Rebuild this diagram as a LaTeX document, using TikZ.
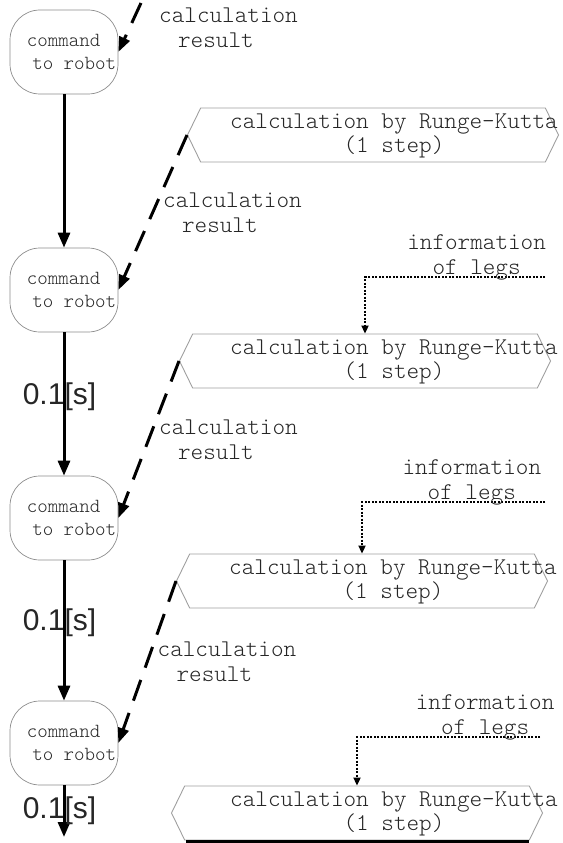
\documentclass[tikz,border=0pt]{standalone}
\usepackage{fontspec}
\setmonofont{Latin Modern Mono Light}
\newfontfamily\timefont{Liberation Sans}
\usetikzlibrary{arrows.meta,shapes.symbols}

\begin{document}
\begin{tikzpicture}[
    x=1pt, y=-1pt,
    robot/.style={rectangle, rounded corners=30pt, minimum width=108pt, minimum height=84pt, draw=gray!90, line width=0.7pt},
    robottext/.style={font=\ttfamily\fontsize{20}{23}\selectfont, align=center, text=black!85, inner sep=0pt},
    rkbox/.style={signal, signal to=west and east, signal pointer angle=128, minimum width=371pt, minimum height=54pt, draw=gray!75, line width=0.9pt, inner sep=0pt},
    rktext/.style={font=\ttfamily\fontsize{24}{24}\selectfont, align=center, text=black!85, inner sep=0pt},
    resulttext/.style={font=\ttfamily\fontsize{24}{25}\selectfont, align=center, text=black!85, inner sep=0pt, anchor=west, xshift=9pt},
    legstext/.style={font=\ttfamily\fontsize{24}{25}\selectfont, align=center, text=black!85, inner sep=0pt, anchor=south, yshift=-4pt},
    timelabel/.style={font=\timefont\fontsize{30}{30}\selectfont, text=black!85, inner sep=0pt, anchor=base, xshift=-4.5pt},
    timestep/.style={line width=3pt, -{Triangle[length=15pt,width=12pt]}},
    result/.style={line width=3pt, dash pattern=on 22pt off 13pt, -{Triangle[length=15pt,width=11pt]}},
    legs/.style={line width=2pt, dash pattern=on 2pt off 1.5pt, -{Triangle[length=8pt,width=7pt]}}
]
    \useasboundingbox (0,0) rectangle (562,843);

    % commands to the robot
    \node[robot] (robot1) at (64,52) {};
    \node[robot] (robot2) at (64,290) {};
    \node[robot] (robot3) at (64,518) {};
    \node[robot] (robot4) at (64,743) {};
    \node[robottext] (cmd1) at ([xshift=5pt]robot1.center) {command\hphantom{x}\\\hphantom{x}to robot};
    \node[robottext] (cmd2) at ([xshift=5pt]robot2.center) {command\hphantom{x}\\\hphantom{x}to robot};
    \node[robottext] (cmd3) at ([xshift=5pt]robot3.center) {command\hphantom{x}\\\hphantom{x}to robot};
    \node[robottext] (cmd4) at ([xshift=5pt]robot4.center) {command\hphantom{x}\\\hphantom{x}to robot};

    % one Runge-Kutta step each
    \node[rkbox] (rk1) at (373,135) {};
    \node[rkbox] (rk2) at (365,361) {};
    \node[rkbox] (rk3) at (362,581) {};
    \node[rkbox] (rk4) at (357,813) {};
    \node[rktext] (rk1text) at (394,136) {calculation by Runge-Kutta\\(1 step)};
    \node[rktext] (rk2text) at (394,362) {calculation by Runge-Kutta\\(1 step)};
    \node[rktext] (rk3text) at (393,582) {calculation by Runge-Kutta\\(1 step)};
    \node[rktext] (rk4text) at (394,814) {calculation by Runge-Kutta\\(1 step)};
    \draw[line width=3pt] ([xshift=-171pt,yshift=-1pt]rk4.south) -- ([xshift=172pt,yshift=-1pt]rk4.south);

    % time steps
    \coordinate (next) at (64,837);
    \draw[timestep] (robot1) -- (robot2);
    \draw[timestep] (robot2) -- node[timelabel] {0.1[s]} (robot3);
    \draw[timestep] (robot3) -- node[timelabel] {0.1[s]} (robot4);
    \draw[timestep] (robot4) -- node[timelabel, pos=0.65] {0.1[s]} (next);

    % results back to the robot
    \coordinate (prev) at (141,3);
    \draw[result] (prev) -- (robot1.east);
    \node[resulttext, xshift=0pt] (res1) at (150,28) {calculation\\result\hphantom{xx}};
    \draw[result] (rk1.west) -- node[resulttext] (res2) {calculation\\result\hphantom{xx}} (robot2.east);
    \draw[result] (rk2.west) -- node[resulttext] (res3) {calculation\\result\hphantom{xx}} (robot3.east);
    \draw[result] (rk3.west) -- node[resulttext] (res4) {calculation\\result\hphantom{xx}} (robot4.east);

    % information of legs
    \coordinate (legs2) at (545,277);
    \coordinate (legs3) at (545,502);
    \coordinate (legs4) at (540,737);
    \draw[legs] (legs2) -| node[legstext, pos=0.19] (info2) {information\\of legs} (rk2);
    \draw[legs] (legs3) -| node[legstext, pos=0.2] (info3) {information\\of legs} (rk3);
    \draw[legs] (legs4) -| node[legstext, pos=0.15] (info4) {information\\of legs} (rk4);
\end{tikzpicture}
\end{document}
